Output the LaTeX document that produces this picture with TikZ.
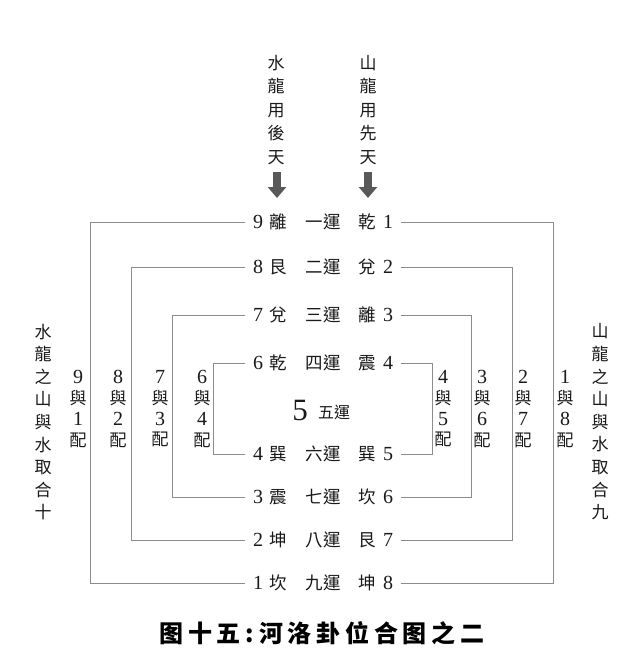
\documentclass[tikz,border=0pt]{standalone}
\usepackage{fontspec}
\setmainfont{Noto Sans CJK TC}
\newfontfamily\digitfont{Liberation Serif}
\newfontfamily\capfont[LetterSpace=20]{Noto Sans CJK SC}
\usetikzlibrary{arrows.meta}
\definecolor{linegray}{HTML}{8C8C8C}
\definecolor{arrowgray}{HTML}{595959}
\definecolor{ink}{HTML}{1A1A1A}
\newcommand\dgt[1]{{\fontsize{20}{20.7}\selectfont\digitfont #1}}
\tikzset{
  gua/.style={inner sep=1pt, text=ink, font=\fontsize{17.5}{17.5}\selectfont},
  num/.style={inner sep=0pt, inner xsep=7.5pt, text=ink, font=\fontsize{20}{20}\selectfont\digitfont},
  bracket/.style={linegray, line width=1pt},
  column/.style={align=center, inner sep=0pt, text=ink, font=\fontsize{17}{23.5}\selectfont},
  pair/.style={align=center, inner sep=0pt, text=ink, font=\fontsize{17}{20.7}\selectfont},
  downarrow/.style={arrowgray, line width=8pt, -{Triangle[width=18pt,length=11pt]}},
  caption/.style={inner sep=0pt, font=\fontsize{24}{24}\capfont\bfseries}
}
\begin{document}
\begin{tikzpicture}[x=1pt,y=-1pt]
  \useasboundingbox (0,0) rectangle (640,657);
  % top: which trigram set each dragon uses
  \node[column] (tw) at (276,110) {水\\龍\\用\\後\\天};
  \node[column] (ts) at (368,110) {山\\龍\\用\\先\\天};
  \coordinate (tw1) at (277,172); \coordinate (tw2) at (277,198);
  \coordinate (ts1) at (368,172); \coordinate (ts2) at (368,198);
  \draw[downarrow] (tw1) -- (tw2);
  \draw[downarrow] (ts1) -- (ts2);
  % the eight rows of yun
  \foreach \ya/\lnum/\lgua/\yun/\rgua/\rnum [count=\i] in
    {222/9/離/一運/乾/1, 267/8/艮/二運/兌/2, 315/7/兌/三運/離/3, 363/6/乾/四運/震/4,
     454/4/巽/六運/巽/5, 497/3/震/七運/坎/6, 540/2/坤/八運/艮/7, 583/1/坎/九運/坤/8}{
    \node[num] (L\i) at (258,\ya) {\lnum};
    \node[gua] (gl\i) at (278,\ya) {\lgua};
    \node[gua] (yun\i) at (323,\ya) {\yun};
    \node[gua] (gr\i) at (367,\ya) {\rgua};
    \node[num] (R\i) at (388,\ya) {\rnum};
  }
  \node[inner sep=0pt, text=ink, font=\fontsize{31}{31}\selectfont\digitfont] (five) at (300,410) {5};
  \node[gua, font=\fontsize{16}{16}\selectfont] (wuyun) at (334,412) {五運};
  % brackets pairing row i with row 9-i
  \foreach \i/\j/\xl/\xr in {1/8/90/553, 2/7/131/512, 3/6/172/471, 4/5/213/432}{
    \coordinate (cl\i) at (\xl,0);
    \coordinate (cr\i) at (\xr,0);
    \draw[bracket] (L\i.west) -- (L\i.west -| cl\i) -- (L\j.west -| cl\i) -- (L\j.west);
    \draw[bracket] (R\i.east) -- (R\i.east -| cr\i) -- (R\j.east -| cr\i) -- (R\j.east);
  }
  % pair labels
  \foreach \x/\a/\b in {78/9/1, 118/8/2, 160/7/3, 202/6/4}
    \node[pair] (pl\b) at (\x,409) {\dgt{\a}\\與\\\dgt{\b}\\配};
  \foreach \x/\a/\b in {443/4/5, 482/3/6, 523/2/7, 565/1/8}
    \node[pair] (pr\a) at (\x,409) {\dgt{\a}\\與\\\dgt{\b}\\配};
  % side texts
  \node[column, font=\fontsize{17}{22.6}\selectfont] (wl) at (43,422) {水\\龍\\之\\山\\與\\水\\取\\合\\十};
  \node[column, font=\fontsize{17}{22.6}\selectfont] (wr) at (600,422) {山\\龍\\之\\山\\與\\水\\取\\合\\九};
  \node[caption] (cap) at (322,633) {图十五:河洛卦位合图之二};
\end{tikzpicture}
\end{document}
